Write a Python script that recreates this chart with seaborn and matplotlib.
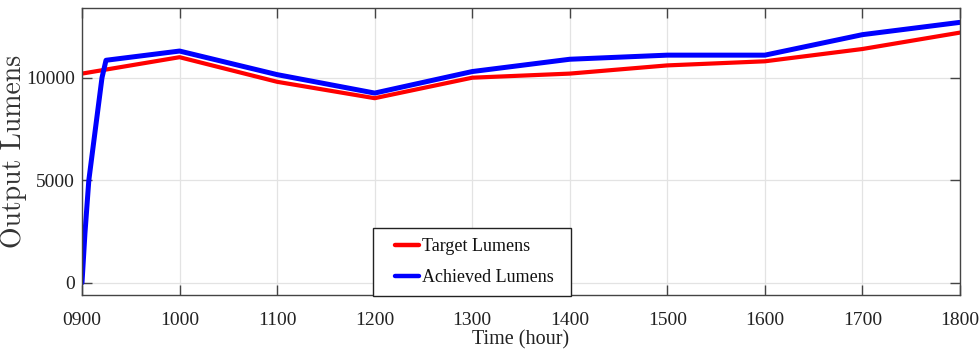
import matplotlib
matplotlib.use("Agg")
import matplotlib.pyplot as plt
from matplotlib.legend_handler import HandlerLine2D
import numpy as np
import seaborn as sns
import pandas as pd

# Data
target_time = [900, 1000, 1100, 1200, 1300, 1400, 1500, 1600, 1700, 1800]
target_lumens = [10200, 11000, 9800, 9000, 10000, 10200, 10600, 10800, 11400, 12200]

achieved_time = [900, 903, 907, 914, 920.5, 924.6, 1000, 1100, 1200, 1300, 1400, 1500, 1600, 1700, 1800]
achieved_lumens = [0, 2400, 5000, 7600, 10000, 10850, 11300, 10150, 9250, 10300, 10900, 11100, 11100, 12100, 12700]

x_ticks = [900, 1000, 1100, 1200, 1300, 1400, 1500, 1600, 1700, 1800]
x_tick_labels = ["0900", "1000", "1100", "1200", "1300", "1400", "1500", "1600", "1700", "1800"]
y_ticks = [0, 5000, 10000]

sns.set_style("white")
plt.rcParams["font.family"] = ["Liberation Serif", "DejaVu Serif"]

df_t = pd.DataFrame({"time": target_time, "lumens": target_lumens})
df_a = pd.DataFrame({"time": achieved_time, "lumens": achieved_lumens})

fig = plt.figure(figsize=(9.8, 3.64), dpi=100)
ax = fig.add_axes([82 / 980, 1 - 295 / 364, 878 / 980, 287 / 364])

sns.lineplot(data=df_t, x="time", y="lumens", ax=ax, color="#ff0000", linewidth=3.0,
             label="Target Lumens", sort=False)
sns.lineplot(data=df_a, x="time", y="lumens", ax=ax, color="#0000ff", linewidth=3.6,
             label="Achieved Lumens", sort=False)

ax.set_xlim(900, 1800)
ax.set_ylim(-600, 13400)
ax.set_xticks(x_ticks)
ax.set_xticklabels(x_tick_labels, fontsize=14)
ax.set_yticks(y_ticks)
ax.set_yticklabels([str(v) for v in y_ticks], fontsize=14)
ax.grid(True, color="#e3e3e3", linewidth=0.9)
ax.set_axisbelow(True)
ax.tick_params(direction="in", length=7, width=1.0, color="#444444", top=True, right=True,
               bottom=True, left=True, labelcolor="#222222")
ax.tick_params(axis="x", pad=12)
ax.tick_params(axis="y", pad=5)
for s in ax.spines.values():
    s.set_color("#444444")
    s.set_linewidth(1.0)

ax.set_xlabel("Time (hour)", fontsize=14.5, color="#222222", labelpad=1)
ax.set_ylabel("Output Lumens", fontsize=20, family="cmr10", color="#333333")
ax.yaxis.set_label_coords(-0.0625, 0.5)


class ShortLine(HandlerLine2D):
    def create_artists(self, legend, orig_handle, xdescent, ydescent, width, height,
                       fontsize, trans):
        arts = super().create_artists(legend, orig_handle, xdescent, ydescent, width,
                                      height, fontsize, trans)
        for a in arts:
            xd = np.asarray(a.get_xdata(), dtype=float)
            if len(xd) >= 2:
                x0, x1 = xd[0], xd[-1]
                a.set_xdata(np.linspace(x0 + 0.33 * (x1 - x0), x1, len(xd)))
            a.set_linewidth(3.2)
        return arts


handles, labels = ax.get_legend_handles_labels()
leg = ax.legend(handles, labels, loc="lower left",
                bbox_to_anchor=((373 - 82) / 878, -0.003, 198 / 878, 0.1),
                mode="expand",
                fontsize=13, frameon=True, fancybox=False, edgecolor="#222222",
                framealpha=1, handlelength=2.0, borderpad=0.55, labelspacing=0.75,
                handletextpad=0.17, borderaxespad=0,
                handler_map={h: ShortLine() for h in handles})
leg.get_frame().set_linewidth(1.0)
for t in leg.get_texts():
    t.set_color("#111111")

fig.savefig("out.png", dpi=100)
